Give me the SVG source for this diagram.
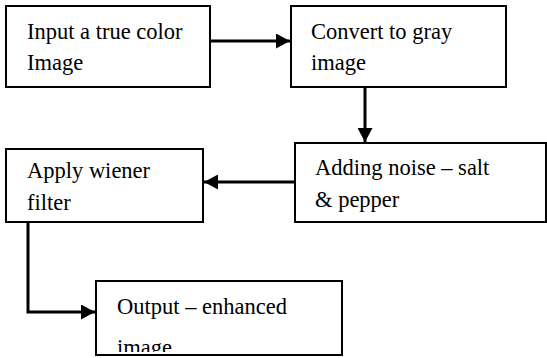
<svg xmlns="http://www.w3.org/2000/svg" width="547" height="358" viewBox="0 0 547 358">
<style>
.box{fill:#fff;stroke:#000;stroke-width:2}
.t{font-family:"Liberation Serif","Times New Roman",serif;font-size:22.5px;fill:#000}
.c{fill:none;stroke:#000;stroke-width:3}
</style>
<defs>
<marker id="ah" markerUnits="userSpaceOnUse" markerWidth="15" markerHeight="15" refX="14" refY="7.5" orient="auto">
<path d="M0,0 L14,7.5 L0,15 Z" fill="#000"/>
</marker>
<clipPath id="clip5"><rect x="96" y="281" width="248" height="71"/></clipPath>
</defs>
<rect width="547" height="358" fill="#fff"/>
<g id="connectors">
<line class="c" x1="210" y1="41" x2="290" y2="41" marker-end="url(#ah)"/>
<line class="c" x1="365" y1="87" x2="365" y2="142" marker-end="url(#ah)"/>
<line class="c" x1="295" y1="182" x2="204" y2="182" marker-end="url(#ah)"/>
<polyline class="c" points="28,222 28,312 95,312" marker-end="url(#ah)"/>
</g>
<g id="n1">
<rect class="box" x="6" y="6" width="204" height="81"/>
<text class="t" x="27" y="39">Input a true color</text>
<text class="t" x="27" y="70">Image</text>
</g>
<g id="n2">
<rect class="box" x="291" y="6" width="215" height="81"/>
<text class="t" x="311" y="39">Convert to gray</text>
<text class="t" x="311" y="70">image</text>
</g>
<g id="n3">
<rect class="box" x="295" y="143" width="251" height="79"/>
<text class="t" x="315" y="175">Adding noise – salt</text>
<text class="t" x="315" y="207">&amp; pepper</text>
</g>
<g id="n4">
<rect class="box" x="6" y="149" width="197" height="73"/>
<text class="t" x="27" y="178">Apply wiener</text>
<text class="t" x="27" y="210">filter</text>
</g>
<g id="n5">
<rect class="box" x="96" y="281" width="246" height="74"/>
<text class="t" x="117" y="314">Output – enhanced</text>
<text class="t" x="117" y="355" clip-path="url(#clip5)">image</text>
</g>
</svg>
